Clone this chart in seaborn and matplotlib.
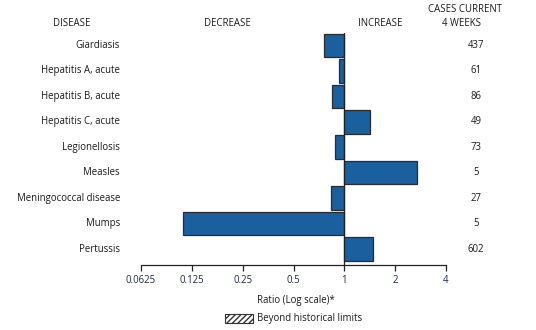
import numpy as np
import pandas as pd
import matplotlib
matplotlib.use("Agg")
import matplotlib.pyplot as plt
import seaborn as sns
from matplotlib.patches import Rectangle

diseases = ["Giardiasis", "Hepatitis A, acute", "Hepatitis B, acute", "Hepatitis C, acute",
            "Legionellosis", "Measles", "Meningococcal disease", "Mumps", "Pertussis"]
ratios = [0.76, 0.93, 0.84, 1.41, 0.88, 2.71, 0.83, 0.111, 1.48]
cases = [437, 61, 86, 49, 73, 5, 27, 5, 602]
tick_values = [0.0625, 0.125, 0.25, 0.5, 1, 2, 4]
tick_labels = ["0.0625", "0.125", "0.25", "0.5", "1", "2", "4"]

sns.set_theme(style="white")
plt.rcParams["font.family"] = ["Open Sans", "DejaVu Sans"]

df = pd.DataFrame({"disease": diseases, "log_ratio": np.log2(ratios)})

W, H = 536, 330
fig = plt.figure(figsize=(W / 100, H / 100), dpi=100)
ax = fig.add_axes([141 / W, 1 - 265 / H, (446 - 141) / W, (265 - 33) / H])

sns.barplot(data=df, x="log_ratio", y="disease", orient="h", color="#1a5f9e",
            saturation=1, width=0.93, edgecolor="#2b2b2b", linewidth=0.9, ax=ax)

ax.set_xlim(np.log2(tick_values[0]), np.log2(tick_values[-1]))
ax.set_ylim(8.63, -0.49)
ax.axvline(0, color="#222222", lw=0.9, zorder=3)

for s in ["top", "right", "left"]:
    ax.spines[s].set_visible(False)
ax.spines["bottom"].set_color("#222222")
ax.spines["bottom"].set_linewidth(0.9)

ax.set_xticks(np.log2(tick_values))
ax.set_xticklabels(tick_labels, fontsize=6.9, color="#1f2a44")
ax.tick_params(axis="x", direction="out", length=4, width=0.9, color="#222222", pad=3, bottom=True)
ax.set_yticks([])
ax.set_xlabel("")
ax.set_ylabel("")

def fx(px):
    return px / W

def fy(py):
    return 1 - py / H

txt = dict(fontsize=6.9, color="#1a1a1a")
for i, (d, c) in enumerate(zip(diseases, cases)):
    yc = 45.5 + i * 25.44
    fig.text(fx(120), fy(yc), d, ha="right", va="center", **txt)
    fig.text(fx(476), fy(yc), str(c), ha="center", va="center", **txt)

fig.text(fx(71.5), fy(23), "DISEASE", ha="center", va="center", **txt)
fig.text(fx(227), fy(23), "DECREASE", ha="center", va="center", **txt)
fig.text(fx(380), fy(23), "INCREASE", ha="center", va="center", **txt)
fig.text(fx(465), fy(10), "CASES CURRENT", ha="center", va="center", **txt)
fig.text(fx(462), fy(23), "4 WEEKS", ha="center", va="center", **txt)

fig.text(fx(296), fy(301), "Ratio (Log scale)*", ha="center", va="center", **txt)

rect = Rectangle((fx(225), fy(323)), fx(28), 9 / H, transform=fig.transFigure,
                 facecolor="white", edgecolor="#333333", hatch="//////", linewidth=0.8)
fig.patches.append(rect)
fig.text(fx(257), fy(319), "Beyond historical limits", ha="left", va="center", **txt)

fig.savefig("out.png", dpi=100)
